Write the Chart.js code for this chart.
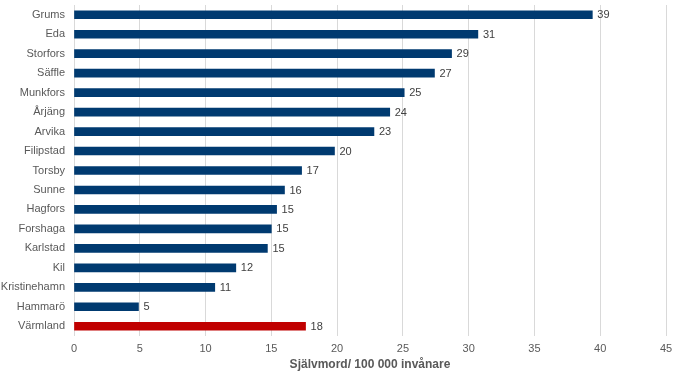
<!DOCTYPE html>
<html>
<head>
<meta charset="utf-8">
<script src="https://cdn.jsdelivr.net/npm/chart.js@4/dist/chart.umd.min.js"></script>
<style>
  html, body { margin: 0; padding: 0; background: #fff; }
  #wrap { width: 680px; height: 387px; position: relative; }
</style>
</head>
<body>
<div id="wrap"><canvas id="c"></canvas></div>
<script>
const categories = ["Grums","Eda","Storfors","Säffle","Munkfors","Årjäng","Arvika","Filipstad","Torsby","Sunne","Hagfors","Forshaga","Karlstad","Kil","Kristinehamn","Hammarö","Värmland"];
const values = [39.4, 30.7, 28.7, 27.4, 25.1, 24.0, 22.8, 19.8, 17.3, 16.0, 15.4, 15.0, 14.7, 12.3, 10.7, 4.9, 17.6];
const xTicks = [0, 5, 10, 15, 20, 25, 30, 35, 40, 45];
const axisTitle = "Självmord/ 100 000 invånare";

const navy = "#003A70";
const red = "#C00000";
const colors = categories.map(c => c === "Värmland" ? red : navy);

const valueLabels = {
  id: 'valueLabels',
  afterDatasetsDraw(chart) {
    const ctx = chart.ctx;
    const meta = chart.getDatasetMeta(0);
    ctx.save();
    ctx.font = '11px "Liberation Sans", Arial, sans-serif';
    ctx.fillStyle = '#404040';
    ctx.textAlign = 'left';
    ctx.textBaseline = 'middle';
    meta.data.forEach((bar, i) => {
      ctx.fillText(Math.round(values[i]).toString(), bar.x + 5, bar.y + 0.5);
    });
    ctx.restore();
  }
};

new Chart(document.getElementById('c'), {
  type: 'bar',
  data: {
    labels: categories,
    datasets: [{
      data: values,
      backgroundColor: colors,
      barThickness: 8
    }]
  },
  options: {
    indexAxis: 'y',
    responsive: true,
    maintainAspectRatio: false,
    animation: false,
    layout: { padding: { left: 0, right: 14, top: 5, bottom: 0 } },
    plugins: { legend: { display: false }, tooltip: { enabled: false } },
    scales: {
      x: {
        min: 0, max: 45,
        afterBuildTicks(scale) { scale.ticks = xTicks.map(v => ({ value: v })); },
        afterFit(scale) { scale.height = 51; },
        grid: { color: '#D9D9D9', drawTicks: false, lineWidth: 1 },
        border: { display: false },
        ticks: {
          padding: 6,
          color: '#595959',
          font: { family: '"Liberation Sans", Arial, sans-serif', size: 11 }
        },
        title: {
          display: true,
          text: axisTitle,
          color: '#595959',
          padding: { top: 0, bottom: 15 },
          font: { family: '"Liberation Sans", Arial, sans-serif', size: 12, weight: 'bold' }
        }
      },
      y: {
        afterFit(scale) { scale.width = 74; scale.paddingTop = 0; scale.paddingBottom = 0; },
        grid: { display: false, drawTicks: false },
        border: { display: false },
        ticks: {
          padding: 9,
          color: '#595959',
          autoSkip: false,
          font: { family: '"Liberation Sans", Arial, sans-serif', size: 11 }
        }
      }
    }
  },
  plugins: [valueLabels]
});
</script>
</body>
</html>
